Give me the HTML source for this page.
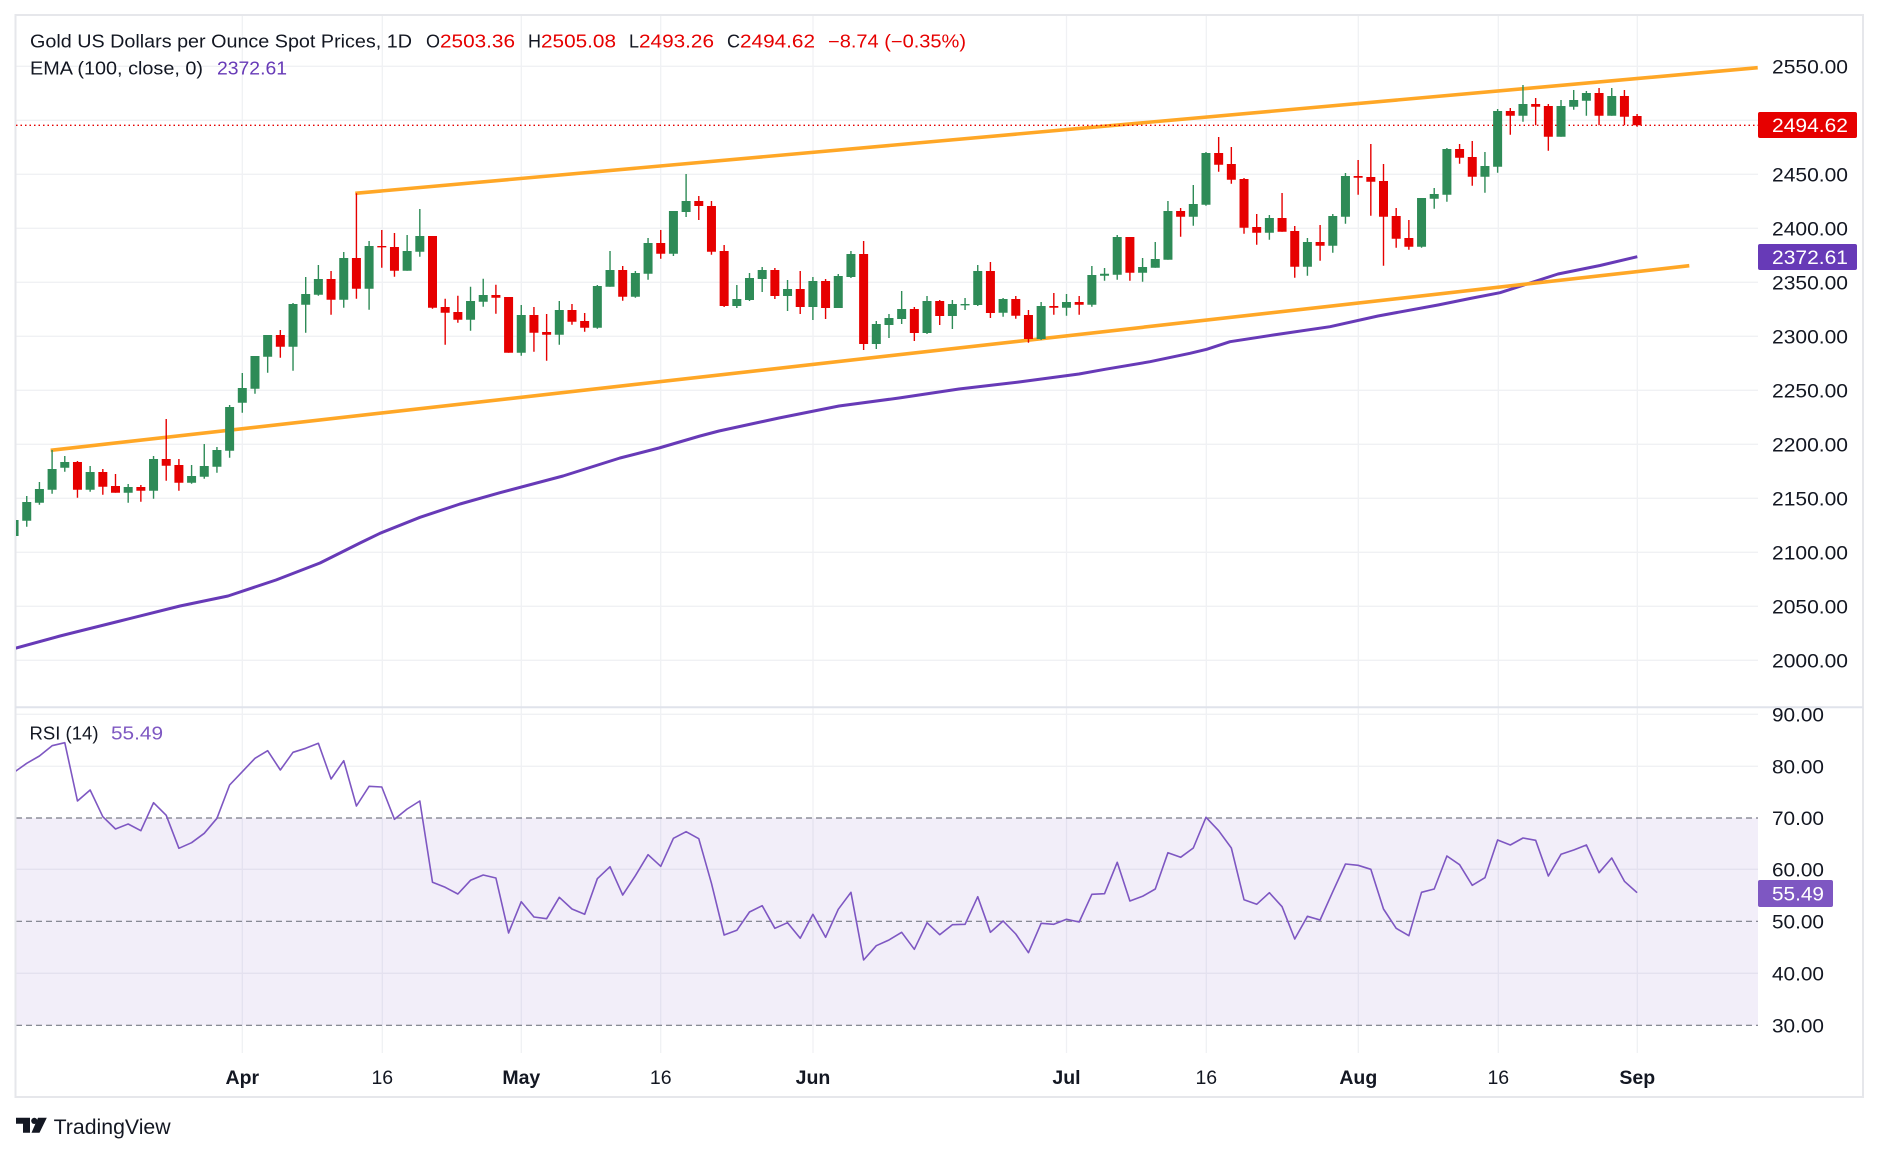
<!DOCTYPE html>
<html><head><meta charset="utf-8"><style>
html,body{margin:0;padding:0;background:#fff;width:1879px;height:1154px;overflow:hidden}
svg{display:block}
text{font-family:"Liberation Sans",Arial,sans-serif}
</style></head><body>
<svg width="1879" height="1154" viewBox="0 0 1879 1154" xmlns="http://www.w3.org/2000/svg">
<defs>
<clipPath id="cp"><rect x="16" y="16" width="1742" height="690"/></clipPath>
<clipPath id="cr"><rect x="16" y="708" width="1742" height="345"/></clipPath>
</defs>
<rect width="1879" height="1154" fill="#fff"/>
<!-- grid -->
<g stroke="#f0f1f4" stroke-width="1.3">
<path d="M16 66.3H1758M16 120.3H1758M16 174.3H1758M16 228.3H1758M16 282.3H1758M16 336.3H1758M16 390.3H1758M16 444.3H1758M16 498.3H1758M16 552.3H1758M16 606.3H1758M16 660.3H1758"/>
<path d="M16 714.3H1758M16 766.3H1758M16 869.3H1758M16 973.3H1758"/>
<path d="M242.3 16V1053M382.3 16V1053M521.3 16V1053M660.7 16V1053M813 16V1053M1066.5 16V1053M1206.3 16V1053M1358.3 16V1053M1498.3 16V1053M1637.3 16V1053"/>
</g>
<!-- RSI band -->
<rect x="16" y="818" width="1742" height="207.3" fill="#7e57c2" fill-opacity="0.1"/>
<g stroke="#787b86" stroke-width="1.2" stroke-dasharray="6 4">
<path d="M16 818H1758M16 921.3H1758M16 1025.3H1758"/>
</g>
<!-- frame -->
<rect x="15.5" y="15" width="1847.5" height="1082" fill="none" stroke="#e6e7eb" stroke-width="2"/>
<path d="M15.5 707.3H1863" stroke="#e0e3eb" stroke-width="2"/>
<g clip-path="url(#cp)">
<!-- EMA -->
<polyline fill="none" stroke="#673ab7" stroke-width="3" stroke-linejoin="round" points="14,648.6 60,636 120,621 180,606 228,596 276,580 320,563 360,543 380,533.3 420,517.3 460,504 500,492.7 563,476 620,458 659,448 700,436 719,431 779,418 839,406 899,398 959,389 1019,382 1079,374 1105,369.3 1150,361.7 1190,353.3 1206.7,349.3 1230,341.7 1273.3,335 1330,326.7 1378,316 1438,305 1470,298.5 1500,292.7 1558,274 1600,265.5 1637.3,256.7"/>
<!-- trend lines -->
<path d="M355.3 193.3L1757.7 67.7M50.7 450.3L1689.3 265.7" stroke="#ffa726" stroke-width="3.6" stroke-linecap="butt" fill="none"/>
<!-- close dotted line -->
<path d="M16 125.3H1758" stroke="#e60000" stroke-width="1.3" stroke-dasharray="1.5 3"/>
<!-- green candles -->
<path stroke="#2e8b57" stroke-width="1.4" fill="none" d="M14.06 514V541M26.74 496V526.7M39.42 482V504.7M52.1 450V493.7M64.78 456V471.7M90.14 466V491.7M128.18 484V502.7M153.54 456V498.7M191.58 465V483.7M204.26 444V478.7M216.94 447V472.7M229.62 405V457.7M242.3 373V412.7M254.98 356V393.7M267.66 335V372.7M293.02 303V370.7M305.7 277V332.7M318.38 265V295.7M343.74 252V307.7M369.1 241V309.7M407.14 235V270.7M419.82 209V256.7M470.54 286.7V330.7M483.22 278.7V306.7M521.26 305V355.7M559.3 301V344.7M597.34 285V328.7M610.02 251V286.7M635.38 271V297.7M648.06 238V279.7M673.42 211V256M686.1 174V217M736.82 285V308M749.5 273V301M762.18 267V292M787.54 280V311M812.9 277V320M838.26 274V308M850.94 251V278M876.3 321V349M888.98 314V338M901.66 291V324M927.02 296V334M952.38 300V329M965.06 298V310M977.74 265V306M1003.1 298V316.7M1041.14 302V340M1066.5 294V315.7M1091.86 266V306.7M1104.54 268V280.7M1117.22 235V279.7M1142.58 258V281.7M1155.26 242V267.7M1167.94 201V259.7M1193.3 185V225.7M1205.98 152V205.7M1269.38 215V239.7M1307.42 238V275.7M1332.78 214V252.7M1345.46 173V223.7M1421.54 198V247.7M1434.22 188V208.7M1446.9 148V201.7M1484.94 152V192.7M1497.62 109V172.7M1522.98 85V121.7M1561.02 100V136.7M1573.7 90V109.7M1586.38 91V115.7M1611.74 88V115.7"/>
<path fill="#2e8b57" d="M9.56 520h9v16h-9zM22.24 502h9v18.7h-9zM34.92 489h9v13.7h-9zM47.6 469h9v20.7h-9zM60.28 462h9v5.7h-9zM85.64 472h9v17.7h-9zM123.68 487h9v5.7h-9zM149.04 459h9v31.7h-9zM187.08 476h9v6.7h-9zM199.76 466h9v10.7h-9zM212.44 450h9v16.7h-9zM225.12 407h9v43.7h-9zM237.8 388h9v14.7h-9zM250.48 356h9v32.7h-9zM263.16 335h9v21.7h-9zM288.52 304h9v42.7h-9zM301.2 294h9v10.7h-9zM313.88 279h9v15.7h-9zM339.24 258h9v41.7h-9zM364.6 246h9v42.7h-9zM402.64 251h9v19.7h-9zM415.32 236h9v15.7h-9zM466.04 301h9v18.7h-9zM478.72 295h9v6.7h-9zM516.76 315h9v37.7h-9zM554.8 310h9v24.7h-9zM592.84 286h9v41.7h-9zM605.52 270h9v16.7h-9zM630.88 273h9v23.7h-9zM643.56 243h9v30.7h-9zM668.92 211h9v42.7h-9zM681.6 201h9v11h-9zM732.32 299h9v7h-9zM745 278h9v22h-9zM757.68 270h9v9h-9zM783.04 289h9v7h-9zM808.4 281h9v26h-9zM833.76 276h9v32h-9zM846.44 254h9v23h-9zM871.8 324h9v20h-9zM884.48 318h9v7h-9zM897.16 309h9v10h-9zM922.52 301h9v32h-9zM947.88 304h9v12h-9zM960.56 304h9v1.4h-9zM973.24 271h9v34h-9zM998.6 299h9v13.7h-9zM1036.64 306h9v33h-9zM1062 302h9v5.7h-9zM1087.36 275h9v29.7h-9zM1100.04 273.7h9v2h-9zM1112.72 237h9v37.7h-9zM1138.08 267h9v5.7h-9zM1150.76 259h9v8.7h-9zM1163.44 211h9v48.7h-9zM1188.8 204h9v12.7h-9zM1201.48 153h9v51.7h-9zM1264.88 218h9v14.7h-9zM1302.92 242h9v24.7h-9zM1328.28 216h9v29.7h-9zM1340.96 176h9v40.7h-9zM1417.04 198h9v48.7h-9zM1429.72 194h9v4.7h-9zM1442.4 149h9v45.7h-9zM1480.44 166h9v10.7h-9zM1493.12 111h9v55.7h-9zM1518.48 104h9v11.7h-9zM1556.52 106h9v30.7h-9zM1569.2 100h9v6.7h-9zM1581.88 93h9v7.7h-9zM1607.24 96h9v19.7h-9z"/>
<!-- red candles -->
<path stroke="#e60000" stroke-width="1.4" fill="none" d="M77.46 461V497.7M102.82 469V494.7M115.5 474V492.7M140.86 485V501.7M166.22 419V480.7M178.9 459V490.7M280.34 330V357.7M331.06 271V314.7M356.42 193.3V298.7M381.78 230V267.7M394.46 233V276.7M432.5 236V308.7M445.18 298.7V344.7M457.86 295.7V322.7M495.9 284.7V313.7M508.58 297V352.7M533.94 307V351.7M546.62 314V360.7M571.98 304V324.7M584.66 313V331.7M622.7 266V300.7M660.74 230V258.7M698.78 196V220M711.46 201V254.7M724.14 245V307M774.86 268V299M800.22 271V314M825.58 279V319M863.62 241V350M914.34 307V341M939.7 300V325M990.42 262V318M1015.78 296V318.7M1028.46 310V342.7M1053.82 293V314.7M1079.18 296V314.7M1129.9 237V280.7M1180.62 208V236.7M1218.66 137V171.7M1231.34 147V183.7M1244.02 178V233.7M1256.7 214V244.7M1282.06 193V231.7M1294.74 226V277.7M1320.1 225V260.7M1358.14 160V194.7M1370.82 144V215.7M1383.5 164V265.7M1396.18 208V247.7M1408.86 220V249.7M1459.58 144V163.7M1472.26 141V185.7M1510.3 108V134.7M1535.66 98V125.3M1548.34 104V150.7M1599.06 88V125.3M1624.42 90V125.3M1637.1 114V126.7"/>
<path fill="#e60000" d="M72.96 462h9v27.7h-9zM98.32 472h9v14.7h-9zM111 486h9v6.7h-9zM136.36 487h9v3.7h-9zM161.72 459h9v6.7h-9zM174.4 465h9v17.7h-9zM275.84 335h9v11.7h-9zM326.56 279h9v20.7h-9zM351.92 258h9v30.7h-9zM377.28 246h9v1.4h-9zM389.96 247h9v23.7h-9zM428 236h9v71.7h-9zM440.68 307h9v5.7h-9zM453.36 312h9v7.7h-9zM491.4 295h9v2.7h-9zM504.08 297h9v55.7h-9zM529.44 315h9v17.7h-9zM542.12 332h9v2.7h-9zM567.48 310h9v11.7h-9zM580.16 321h9v6.7h-9zM618.2 270h9v26.7h-9zM656.24 243h9v10.7h-9zM694.28 201h9v5h-9zM706.96 206h9v45.7h-9zM719.64 251h9v55h-9zM770.36 270h9v26h-9zM795.72 289h9v18h-9zM821.08 281h9v27h-9zM859.12 254h9v90h-9zM909.84 309h9v24h-9zM935.2 301h9v15h-9zM985.92 271h9v42h-9zM1011.28 299h9v16.7h-9zM1023.96 315h9v24h-9zM1049.32 306h9v1.7h-9zM1074.68 302h9v2.7h-9zM1125.4 237h9v35.7h-9zM1176.12 211h9v5.7h-9zM1214.16 153h9v11.7h-9zM1226.84 164h9v15.7h-9zM1239.52 179h9v48.7h-9zM1252.2 227h9v5.7h-9zM1277.56 218h9v13.7h-9zM1290.24 231h9v35.7h-9zM1315.6 242h9v3.7h-9zM1353.64 176h9v1.7h-9zM1366.32 177h9v4.7h-9zM1379 181h9v35.7h-9zM1391.68 216h9v22.7h-9zM1404.36 238h9v8.7h-9zM1455.08 149h9v8.7h-9zM1467.76 157h9v19.7h-9zM1505.8 111h9v4.7h-9zM1531.16 104h9v2.7h-9zM1543.84 106h9v30.7h-9zM1594.56 93h9v22.7h-9zM1619.92 96h9v20.7h-9zM1632.6 116h9v9.3h-9z"/>
</g>
<!-- RSI line -->
<g clip-path="url(#cr)">
<polyline fill="none" stroke="#7e57c2" stroke-width="1.6" stroke-linejoin="round" points="14.06,772.3 26.74,763.3 39.42,756 52.1,745.7 64.78,742.7 77.46,801 90.14,790 102.82,816.7 115.5,829 128.18,824 140.86,830.7 153.54,802.7 166.22,815.3 178.9,848.3 191.58,842.7 204.26,833.3 216.94,818.3 229.62,785 242.3,771.7 254.98,758.3 267.66,750.7 280.34,770 293.02,752.3 305.7,748.3 318.38,743.3 331.06,779 343.74,760.7 356.42,806 369.1,786.3 381.78,787 394.46,819.3 407.14,809 419.82,801 432.5,882.3 445.18,887.3 457.86,894 470.54,880.3 483.22,875 495.9,878 508.58,933 521.26,901.7 533.94,917 546.62,918.7 559.3,897.3 571.98,909 584.66,914.3 597.34,878.7 610.02,866.7 622.7,895 635.38,875.7 648.06,854.7 660.74,866.3 673.42,838.3 686.1,831.7 698.78,838.7 711.46,883.3 724.14,935 736.82,930.3 749.5,912 762.18,905.7 774.86,928.3 787.54,922.7 800.22,938.3 812.9,914.3 825.58,937.3 838.26,909.3 850.94,892.3 863.62,960 876.3,945.7 888.98,940 901.66,932.3 914.34,949.3 927.02,922.7 939.7,934.7 952.38,924.7 965.06,924.3 977.74,896.7 990.42,932.3 1003.1,921 1015.78,934 1028.46,952.7 1041.14,923.3 1053.82,924.3 1066.5,919.3 1079.18,922 1091.86,894.3 1104.54,893.7 1117.22,862.3 1129.9,901 1142.58,896.3 1155.26,889 1167.94,852.7 1180.62,857.3 1193.3,848 1205.98,817.3 1218.66,830.7 1231.34,848 1244.02,899.7 1256.7,904.3 1269.38,892.7 1282.06,906.7 1294.74,939 1307.42,916.3 1320.1,920 1332.78,891.7 1345.46,864 1358.14,865.3 1370.82,869.3 1383.5,909 1396.18,928.3 1408.86,935.7 1421.54,892.3 1434.22,889 1446.9,856 1459.58,864.7 1472.26,885.3 1484.94,877.7 1497.62,840 1510.3,845 1522.98,838 1535.66,840.3 1548.34,876 1561.02,854.3 1573.7,850 1586.38,845 1599.06,872.7 1611.74,858 1624.42,881.3 1637.1,892.7"/>
</g>
<!-- legend -->
<g font-size="18" fill="#131722">
<text x="30" y="47.7" textLength="382" lengthAdjust="spacingAndGlyphs">Gold US Dollars per Ounce Spot Prices, 1D</text>
<text x="426" y="47.7">O</text>
<text x="440" y="47.7" fill="#e60000" textLength="75" lengthAdjust="spacingAndGlyphs">2503.36</text>
<text x="528" y="47.7">H</text>
<text x="541" y="47.7" fill="#e60000" textLength="75" lengthAdjust="spacingAndGlyphs">2505.08</text>
<text x="629" y="47.7">L</text>
<text x="639" y="47.7" fill="#e60000" textLength="75" lengthAdjust="spacingAndGlyphs">2493.26</text>
<text x="727" y="47.7">C</text>
<text x="740" y="47.7" fill="#e60000" textLength="75" lengthAdjust="spacingAndGlyphs">2494.62</text>
<text x="828" y="47.7" fill="#e60000" textLength="138" lengthAdjust="spacingAndGlyphs">−8.74 (−0.35%)</text>
<text x="30" y="74.3" textLength="173" lengthAdjust="spacingAndGlyphs">EMA (100, close, 0)</text>
<text x="217" y="74.3" fill="#673ab7" textLength="70" lengthAdjust="spacingAndGlyphs">2372.61</text>
<text x="29.5" y="739.5" textLength="69" lengthAdjust="spacingAndGlyphs">RSI (14)</text>
<text x="111" y="739.5" fill="#7e57c2" textLength="52" lengthAdjust="spacingAndGlyphs">55.49</text>
</g>
<!-- price axis -->
<g font-size="19.5" fill="#131722">
<text x="1772" y="73.3" textLength="76" lengthAdjust="spacingAndGlyphs">2550.00</text>
<text x="1772" y="181.3" textLength="76" lengthAdjust="spacingAndGlyphs">2450.00</text>
<text x="1772" y="235.3" textLength="76" lengthAdjust="spacingAndGlyphs">2400.00</text>
<text x="1772" y="289.3" textLength="76" lengthAdjust="spacingAndGlyphs">2350.00</text>
<text x="1772" y="343.3" textLength="76" lengthAdjust="spacingAndGlyphs">2300.00</text>
<text x="1772" y="397.3" textLength="76" lengthAdjust="spacingAndGlyphs">2250.00</text>
<text x="1772" y="451.3" textLength="76" lengthAdjust="spacingAndGlyphs">2200.00</text>
<text x="1772" y="505.3" textLength="76" lengthAdjust="spacingAndGlyphs">2150.00</text>
<text x="1772" y="559.3" textLength="76" lengthAdjust="spacingAndGlyphs">2100.00</text>
<text x="1772" y="613.3" textLength="76" lengthAdjust="spacingAndGlyphs">2050.00</text>
<text x="1772" y="667.3" textLength="76" lengthAdjust="spacingAndGlyphs">2000.00</text>
<text x="1772" y="721.3" textLength="52" lengthAdjust="spacingAndGlyphs">90.00</text>
<text x="1772" y="773.3" textLength="52" lengthAdjust="spacingAndGlyphs">80.00</text>
<text x="1772" y="825" textLength="52" lengthAdjust="spacingAndGlyphs">70.00</text>
<text x="1772" y="876.3" textLength="52" lengthAdjust="spacingAndGlyphs">60.00</text>
<text x="1772" y="928.3" textLength="52" lengthAdjust="spacingAndGlyphs">50.00</text>
<text x="1772" y="980.3" textLength="52" lengthAdjust="spacingAndGlyphs">40.00</text>
<text x="1772" y="1032.3" textLength="52" lengthAdjust="spacingAndGlyphs">30.00</text>
</g>
<!-- badges -->
<rect x="1758" y="112" width="99" height="26" rx="2" fill="#e60000"/>
<text x="1772" y="132" font-size="19.5" fill="#fff" textLength="76" lengthAdjust="spacingAndGlyphs">2494.62</text>
<rect x="1758" y="244" width="99" height="26" rx="2" fill="#673ab7"/>
<text x="1772" y="264" font-size="19.5" fill="#fff" textLength="76" lengthAdjust="spacingAndGlyphs">2372.61</text>
<rect x="1758" y="880" width="75" height="27" rx="2" fill="#7e57c2"/>
<text x="1772" y="900.5" font-size="19.5" fill="#fff" textLength="52" lengthAdjust="spacingAndGlyphs">55.49</text>
<!-- time axis -->
<g font-size="19.5" fill="#131722" text-anchor="middle">
<text x="242.3" y="1084" font-weight="bold">Apr</text>
<text x="382.3" y="1084">16</text>
<text x="521.3" y="1084" font-weight="bold">May</text>
<text x="660.7" y="1084">16</text>
<text x="813" y="1084" font-weight="bold">Jun</text>
<text x="1066.5" y="1084" font-weight="bold">Jul</text>
<text x="1206.3" y="1084">16</text>
<text x="1358.3" y="1084" font-weight="bold">Aug</text>
<text x="1498.3" y="1084">16</text>
<text x="1637.3" y="1084" font-weight="bold">Sep</text>
</g>
<!-- TradingView logo -->
<g fill="#131722">
<path d="M16 1117.7h14v15h-7v-9h-7z"/>
<circle cx="34.3" cy="1120.9" r="3.1"/>
<path d="M38 1117.7h8.8l-7.3 15h-8z"/>
<text x="53.6" y="1134" font-size="21" textLength="117" lengthAdjust="spacingAndGlyphs">TradingView</text>
</g>
</svg>
</body></html>
